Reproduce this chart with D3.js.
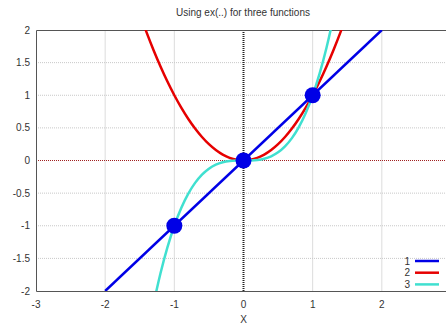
<!DOCTYPE html>
<html>
<head>
<meta charset="utf-8">
<script src="https://cdn.jsdelivr.net/npm/d3@7"></script>
<style>
  body { margin: 0; background: #fff; }
  svg { display: block; font-family: "Liberation Sans", Arial, sans-serif; }
</style>
</head>
<body>
<div id="chart"></div>
<script>
// values
const xTicks = [-3, -2, -1, 0, 1, 2, 3];
const yTicks = [-2, -1.5, -1, -0.5, 0, 0.5, 1, 1.5, 2];

const lineX = [-2, 2];
const lineY = [-2, 2];

const squareX = [-1.5, -1.4, -1.3, -1.2, -1.1, -1, -0.9, -0.8, -0.7, -0.6, -0.5, -0.4, -0.3, -0.2, -0.1, 0,
  0.1, 0.2, 0.3, 0.4, 0.5, 0.6, 0.7, 0.8, 0.9, 1, 1.1, 1.2, 1.3, 1.4, 1.5];
const squareY = [2.25, 1.96, 1.69, 1.44, 1.21, 1, 0.81, 0.64, 0.49, 0.36, 0.25, 0.16, 0.09, 0.04, 0.01, 0,
  0.01, 0.04, 0.09, 0.16, 0.25, 0.36, 0.49, 0.64, 0.81, 1, 1.21, 1.44, 1.69, 1.96, 2.25];

const cubeX = [-1.35, -1.3, -1.2, -1.1, -1, -0.9, -0.8, -0.7, -0.6, -0.5, -0.4, -0.3, -0.2, -0.1, 0,
  0.1, 0.2, 0.3, 0.4, 0.5, 0.6, 0.7, 0.8, 0.9, 1, 1.1, 1.2, 1.3, 1.35];
const cubeY = [-2.46, -2.197, -1.728, -1.331, -1, -0.729, -0.512, -0.343, -0.216, -0.125, -0.064, -0.027, -0.008, -0.001, 0,
  0.001, 0.008, 0.027, 0.064, 0.125, 0.216, 0.343, 0.512, 0.729, 1, 1.331, 1.728, 2.197, 2.46];

const dotX = [-1, 0, 1];
const dotY = [-1, 0, 1];

const legendLabels = ["1", "2", "3"];
const colors = ["#0000e6", "#e60000", "#40e0d0"];

const W = 446, H = 324;
const svg = d3.select("#chart").append("svg").attr("width", W).attr("height", H);

const x = d3.scaleLinear().domain([-3, 3]).range([36, 451]);
const y = d3.scaleLinear().domain([-2, 2]).range([291, 30]);

svg.append("defs").append("clipPath").attr("id", "plot")
  .append("rect").attr("x", 36).attr("y", 30).attr("width", 415).attr("height", 261);

// grid
const grid = svg.append("g");
grid.selectAll("line.v").data(xTicks.filter(d => d !== 0 && d !== -3 && d !== 3)).join("line")
  .attr("x1", d => x(d)).attr("x2", d => x(d)).attr("y1", 30).attr("y2", 291)
  .attr("stroke", "#dcdcdc").attr("stroke-width", 1);
grid.selectAll("line.h").data(yTicks.filter(d => d !== 0 && d !== 2 && d !== -2)).join("line")
  .attr("x1", 36).attr("x2", 451).attr("y1", d => y(d)).attr("y2", d => y(d))
  .attr("stroke", "#c8c8c8").attr("stroke-width", 1).attr("stroke-dasharray", "1,1");

// zero axes
svg.append("line").attr("x1", 36).attr("x2", 451).attr("y1", y(0)).attr("y2", y(0))
  .attr("stroke", "#a02020").attr("stroke-width", 1).attr("stroke-dasharray", "1,1");
svg.append("line").attr("x1", x(0)).attr("x2", x(0)).attr("y1", 30).attr("y2", 291)
  .attr("stroke", "#222").attr("stroke-width", 2).attr("stroke-dasharray", "1,1");

// frame
svg.append("path").attr("d", `M451,30.5H36.5V291.5H451`).attr("fill", "none")
  .attr("stroke", "#555").attr("stroke-width", 1);

// curves
const plot = svg.append("g").attr("clip-path", "url(#plot)");
const line = d3.line().x(d => x(d[0])).y(d => y(d[1])).curve(d3.curveCatmullRom);

plot.append("path").datum(squareX.map((v, i) => [v, squareY[i]]))
  .attr("d", line).attr("fill", "none").attr("stroke", colors[1]).attr("stroke-width", 2.5);
plot.append("path").datum(cubeX.map((v, i) => [v, cubeY[i]]))
  .attr("d", line).attr("fill", "none").attr("stroke", colors[2]).attr("stroke-width", 2.5);
plot.append("path").datum(lineX.map((v, i) => [v, lineY[i]]))
  .attr("d", line).attr("fill", "none").attr("stroke", colors[0]).attr("stroke-width", 2.5);

plot.selectAll("circle").data(dotX.map((v, i) => [v, dotY[i]])).join("circle")
  .attr("cx", d => x(d[0])).attr("cy", d => y(d[1])).attr("r", 8)
  .attr("fill", colors[0]);

// tick labels (the 3 label falls outside the picture)
svg.append("g").selectAll("text").data(yTicks).join("text")
  .attr("x", 30).attr("y", d => y(d)).attr("dy", "0.35em")
  .attr("text-anchor", "end").attr("font-size", 10).attr("fill", "#333")
  .text(d => d);
svg.append("g").selectAll("text").data(xTicks.filter(d => x(d) < W - 5)).join("text")
  .attr("x", d => x(d)).attr("y", 308)
  .attr("text-anchor", "middle").attr("font-size", 10).attr("fill", "#333")
  .text(d => d);

svg.append("text").attr("x", x(0)).attr("y", 323)
  .attr("text-anchor", "middle").attr("font-size", 10).attr("fill", "#333").text("X");

svg.append("text").attr("x", 243).attr("y", 16)
  .attr("text-anchor", "middle").attr("font-size", 10).attr("fill", "#333")
  .text("Using ex(..) for three functions");

// legend
const legend = svg.append("g").selectAll("g").data(legendLabels).join("g")
  .attr("transform", (d, i) => `translate(0, ${261 + i * 11.7})`);
legend.append("text").attr("x", 410).attr("dy", "0.35em").attr("text-anchor", "end")
  .attr("font-size", 10).attr("fill", "#333").text(d => d);
legend.append("line").attr("x1", 415).attr("x2", 439)
  .attr("stroke", (d, i) => colors[i]).attr("stroke-width", 2.5);
</script>
</body>
</html>
